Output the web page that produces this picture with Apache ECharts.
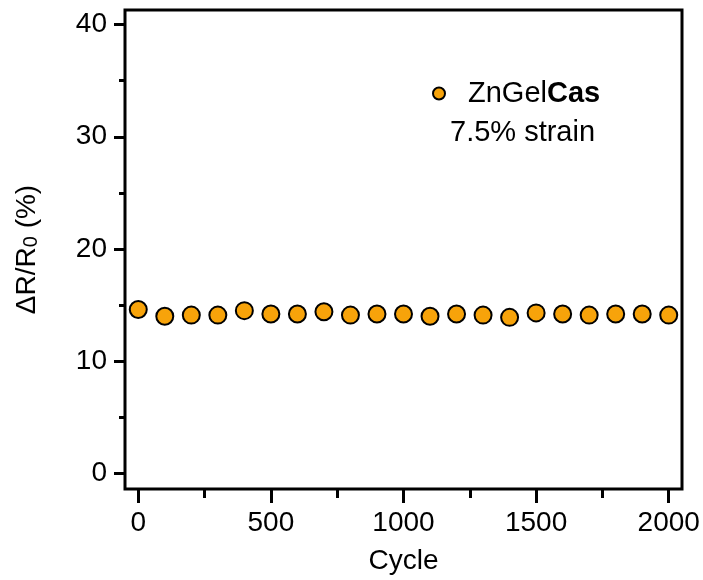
<!DOCTYPE html>
<html>
<head>
<meta charset="utf-8">
<script src="https://cdn.jsdelivr.net/npm/echarts@6/dist/echarts.min.js"></script>
<style>html,body{margin:0;padding:0;background:#fff}#c{width:703px;height:580px}</style>
</head>
<body>
<div id="c"></div>
<script>
const cycles = [0,100,200,300,400,500,600,700,800,900,1000,1100,1200,1300,1400,1500,1600,1700,1800,1900,2000];
const resistanceChange = [14.6,14.0,14.1,14.1,14.5,14.2,14.2,14.4,14.1,14.2,14.2,14.0,14.2,14.1,13.9,14.3,14.2,14.1,14.2,14.2,14.1];
const xMajorTicks = [0,500,1000,1500,2000];
const xMinorTicks = [250,750,1250,1750];
const yMajorTicks = [0,10,20,30,40];
const yMinorTicks = [5,15,25,35];
const seriesName = 'ZnGelCas';
const noteText = '7.5% strain';

const FONT = 'Liberation Sans, Arial, sans-serif';
const X_MIN = -50, X_MAX = 2050, Y_MIN = -1.4, Y_MAX = 41.3;
const plain = v => String(v);
const chart = echarts.init(document.getElementById('c'), null, {renderer:'canvas'});
chart.setOption({
  animation:false,
  backgroundColor:'#fff',
  grid:{left:125, right:21, top:10, bottom:91, show:true, borderColor:'#000', borderWidth:3, backgroundColor:'transparent'},
  title:{text:noteText, left:445, top:113, textStyle:{fontFamily:FONT, fontSize:29, fontWeight:'normal', color:'#000'}},
  legend:{
    data:[seriesName], left:427, top:74, itemWidth:12, itemHeight:12, icon:'circle',
    formatter:function(){return 'ZnGel{b|Cas}';},
    textStyle:{fontFamily:FONT, fontSize:29, color:'#000', padding:[0,0,0,18],
      rich:{b:{fontFamily:FONT, fontSize:29, fontWeight:'bold', color:'#000'}}}
  },
  xAxis:[{
    type:'value', min:X_MIN, max:X_MAX, position:'bottom',
    name:'Cycle', nameLocation:'middle', nameGap:58,
    nameTextStyle:{fontFamily:FONT, fontSize:28, color:'#000'},
    axisLine:{show:false, onZero:false},
    splitLine:{show:false},
    axisTick:{show:true, inside:false, length:14, customValues:xMajorTicks, lineStyle:{color:'#000', width:3}},
    axisLabel:{customValues:xMajorTicks, formatter:plain, fontFamily:FONT, fontSize:28, color:'#000', margin:20}
  },{
    type:'value', min:X_MIN, max:X_MAX, position:'bottom',
    axisLine:{show:false, onZero:false}, splitLine:{show:false},
    axisTick:{show:true, inside:false, length:9, customValues:xMinorTicks, lineStyle:{color:'#000', width:3}},
    axisLabel:{show:false}
  }],
  yAxis:[{
    type:'value', min:Y_MIN, max:Y_MAX, position:'left',
    name:'{n|ΔR/R}{s|0}{n| (%)}', nameLocation:'middle', nameGap:84, nameRotate:90,
    nameTextStyle:{fontFamily:FONT, fontSize:28, color:'#000',
      rich:{n:{fontFamily:FONT, fontSize:28, color:'#000'}, s:{fontFamily:FONT, fontSize:20, color:'#000', verticalAlign:'bottom', padding:[7,0,0,0]}}},
    axisLine:{show:false, onZero:false}, splitLine:{show:false},
    axisTick:{show:true, inside:false, length:11, customValues:yMajorTicks, lineStyle:{color:'#000', width:3}},
    axisLabel:{customValues:yMajorTicks, formatter:plain, fontFamily:FONT, fontSize:28, color:'#000', margin:18}
  },{
    type:'value', min:Y_MIN, max:Y_MAX, position:'left',
    axisLine:{show:false, onZero:false}, splitLine:{show:false},
    axisTick:{show:true, inside:false, length:6, customValues:yMinorTicks, lineStyle:{color:'#000', width:3}},
    axisLabel:{show:false}
  }],
  series:[{
    name:seriesName, type:'scatter', xAxisIndex:0, yAxisIndex:0,
    symbol:'circle', symbolSize:17,
    itemStyle:{color:'#F7A30A', borderColor:'#000', borderWidth:2, opacity:1},
    data:cycles.map((c,i)=>[c, resistanceChange[i]])
  }]
});
</script>
</body>
</html>
